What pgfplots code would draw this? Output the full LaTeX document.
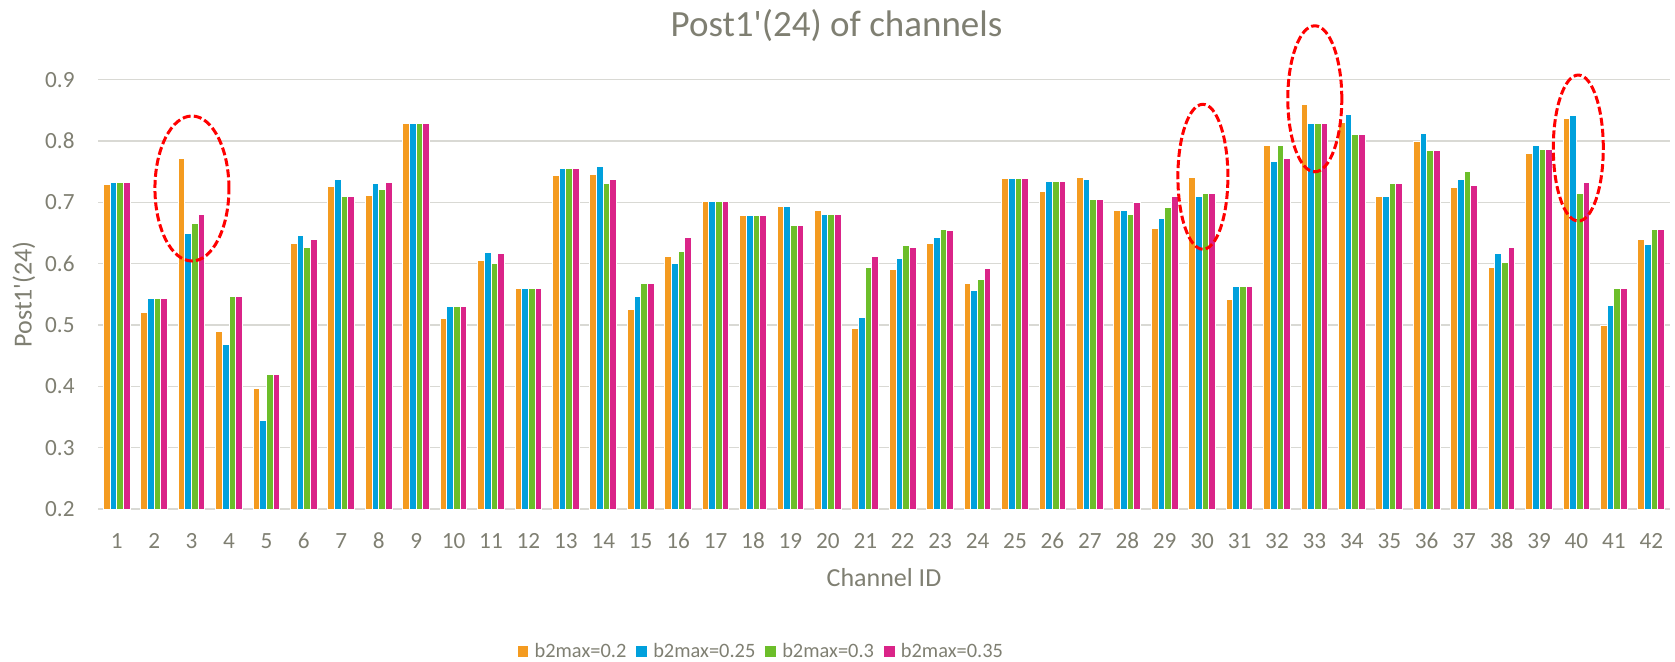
\documentclass[border=0pt]{standalone}
\usepackage{pgfplots}
\pgfplotsset{compat=1.18}
\usepackage{pgfplotstable}
\usepackage{fontspec}
\setmainfont{Carlito}
\definecolor{txtgray}{RGB}{127,127,114}
\definecolor{gridgray}{RGB}{217,217,212}
\definecolor{cOrange}{RGB}{244,155,32}
\definecolor{cBlue}{RGB}{0,160,220}
\definecolor{cGreen}{RGB}{108,190,42}
\definecolor{cMagenta}{RGB}{218,36,136}

\pgfplotstableread{
id a b c d
1 0.729 0.732 0.732 0.732
2 0.521 0.544 0.544 0.544
3 0.772 0.649 0.665 0.681
4 0.489 0.468 0.546 0.546
5 0.396 0.344 0.420 0.420
6 0.633 0.646 0.627 0.639
7 0.726 0.738 0.709 0.709
8 0.712 0.730 0.721 0.732
9 0.828 0.828 0.828 0.828
10 0.510 0.531 0.531 0.531
11 0.605 0.619 0.601 0.617
12 0.560 0.560 0.560 0.560
13 0.744 0.756 0.756 0.756
14 0.746 0.759 0.730 0.737
15 0.525 0.546 0.567 0.567
16 0.611 0.600 0.620 0.642
17 0.702 0.702 0.702 0.702
18 0.679 0.679 0.679 0.679
19 0.694 0.694 0.662 0.662
20 0.686 0.680 0.680 0.680
21 0.495 0.512 0.594 0.611
22 0.591 0.609 0.630 0.627
23 0.633 0.642 0.656 0.654
24 0.568 0.557 0.574 0.592
25 0.739 0.739 0.739 0.739
26 0.718 0.734 0.734 0.734
27 0.741 0.738 0.705 0.705
28 0.687 0.687 0.681 0.700
29 0.657 0.673 0.691 0.710
30 0.740 0.710 0.715 0.715
31 0.541 0.563 0.563 0.563
32 0.792 0.767 0.792 0.771
33 0.859 0.829 0.829 0.829
34 0.831 0.844 0.811 0.811
35 0.710 0.710 0.731 0.731
36 0.800 0.812 0.785 0.785
37 0.725 0.737 0.751 0.727
38 0.594 0.616 0.602 0.626
39 0.779 0.792 0.786 0.786
40 0.836 0.841 0.715 0.732
41 0.499 0.532 0.560 0.560
42 0.640 0.632 0.655 0.655
}\datatable

\begin{document}
\begin{tikzpicture}
\useasboundingbox (-49pt,-76pt) rectangle (788.5pt,254.5pt);
\begin{axis}[
  at={(0pt,0pt)}, anchor=south west,
  scale only axis,
  width=786pt, height=214.65pt,
  xmin=0.5, xmax=42.5, ymin=0.2, ymax=0.9,
  enlargelimits=false,
  ybar, bar width=0.178,
  xtick={1,...,42},
  ytick={0.2,0.3,0.4,0.5,0.6,0.7,0.8,0.9},
  yticklabel style={/pgf/number format/fixed, /pgf/number format/fixed zerofill, /pgf/number format/precision=1},
  /pgf/number format/assume math mode=true,
  ymajorgrids,
  major grid style={draw=gridgray, line width=0.7pt},
  axis line style={draw=none},
  tick style={draw=none},
  major tick length=0pt,
  ticklabel style={font=\fontsize{11.6}{13}\selectfont, text=txtgray},
  yticklabel style={anchor=east, inner sep=0pt, xshift=-11.5pt},
  xticklabel style={anchor=center, inner sep=0pt, yshift=-15.85pt},
  every axis title shift=0pt,
  title={Post1\textquotesingle(24) of channels},
  title style={at={(axis description cs:0.4698,1.1018)}, anchor=base, font=\fontsize{18.5}{22}\selectfont, text=txtgray, inner sep=0pt},
  xlabel={Channel ID},
  xlabel style={at={(axis description cs:0.5,-0.181)}, anchor=base, font=\fontsize{13}{15}\selectfont, text=txtgray, inner sep=0pt},
  ylabel={Post1\textquotesingle(24)},
  ylabel style={at={(axis description cs:-0.0471,0.5)}, anchor=center, rotate=0, font=\fontsize{13}{15}\selectfont, text=txtgray, inner sep=0pt},
  legend columns=4,
  legend image code/.code={\fill[#1,draw=none] (0pt,-2.675pt) rectangle (5.35pt,2.675pt); \path (7.2pt,0pt);},
  legend style={at={(axis description cs:0.422,-0.3324)}, anchor=center, draw=none, fill=none,
    font=\fontsize{10.2}{12}\selectfont, text=txtgray, inner sep=0pt,
    nodes={inner sep=1pt},
    /tikz/every even column/.append style={column sep=4pt}},
]
\addplot[fill=cOrange, draw=white, line width=0.5pt, bar shift=-0.267] table[x=id,y=a]{\datatable};
\addplot[fill=cBlue, draw=white, line width=0.5pt, bar shift=-0.089] table[x=id,y=b]{\datatable};
\addplot[fill=cGreen, draw=white, line width=0.5pt, bar shift=0.089] table[x=id,y=c]{\datatable};
\addplot[fill=cMagenta, draw=white, line width=0.5pt, bar shift=0.267] table[x=id,y=d]{\datatable};
\legend{b2max=0.2, b2max=0.25, b2max=0.3, b2max=0.35}
\coordinate (e1) at (axis cs:3.01,0.7226);
\coordinate (e2) at (axis cs:30.02,0.7417);
\coordinate (e3) at (axis cs:33.01,0.8689);
\coordinate (e4) at (axis cs:40.05,0.7886);
\end{axis}
\begin{scope}[red, line width=1.5pt, dash pattern=on 4pt off 1.6pt]
\draw (e1) ellipse [x radius=18.5pt, y radius=36.25pt];
\draw (e2) ellipse [x radius=12.5pt, y radius=36.25pt];
\draw (e3) ellipse [x radius=13.5pt, y radius=36.5pt];
\draw (e4) ellipse [x radius=12.5pt, y radius=36.5pt];
\end{scope}
\end{tikzpicture}
\end{document}
